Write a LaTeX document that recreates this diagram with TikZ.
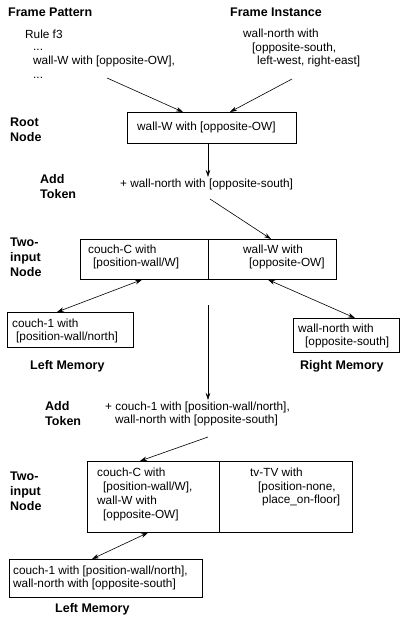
\documentclass[tikz,border=0pt]{standalone}
\usepackage{fontspec}
\setmainfont{Liberation Sans}
\usetikzlibrary{arrows.meta}
\begin{document}
\begin{tikzpicture}[x=1pt,y=-1pt,
  txt/.style={font=\fontsize{11.8}{13.8}\selectfont, inner sep=0pt, align=left, anchor=west},
  lbl/.style={font=\fontsize{12.5}{15}\selectfont\bfseries, inner sep=0pt, align=left, anchor=west},
  boxx/.style={draw, line width=0.7pt, inner sep=0pt, anchor=north west},
  arr/.style={line width=0.6pt, -{Stealth[length=7pt,width=4.5pt]}},
  darr/.style={line width=0.6pt, {Stealth[length=7pt,width=4.5pt]}-{Stealth[length=7pt,width=4.5pt]}},
]
\useasboundingbox (0,0) rectangle (407,629);

% headers
\node[lbl] (hfp) at (8,12) {Frame Pattern};
\node[lbl] (hfi) at (230,12) {Frame Instance};
\node[txt] (rule) at (25,34) {Rule f3};
\node[txt] (pat) at (33,62) {\strut...\\wall-W with [opposite-OW],\\\strut...};
\node[txt] (inst) at (243,48) {wall-north with\\\hspace*{9pt}[opposite-south,\\\hspace*{14pt}left-west, right-east]};

% root
\node[boxx, minimum width=169, minimum height=31] (root) at (127,112) {};
\node[txt] (roottxt) at (137,127) {wall-W with [opposite-OW]};
\node[lbl] (lroot) at (10,130) {Root\\Node};
\coordinate (a1s) at (107,78);
\coordinate (a2s) at (292,79);
\draw[arr] (a1s) -- ([xshift=56pt]root.north west);
\draw[arr] (a2s) -- ([xshift=103pt]root.north west);

% add token 1
\coordinate (t1tip) at (208,177);
\draw[arr] ([xshift=81pt]root.south west) -- (t1tip);
\node[txt] (tok1) at (120,184) {+ wall-north with [opposite-south]};
\node[lbl] (ladd1) at (40,187) {Add\\Token};

% two-input node 1
\node[boxx, minimum width=128, minimum height=40] (n1l) at (80,239) {};
\node[boxx, minimum width=128, minimum height=40] (n1r) at (208,239) {};
\node[txt] (n1lt) at (88,257) {couch-C with\\\hspace*{5pt}[position-wall/W]};
\node[txt] (n1rt) at (243,257) {wall-W with\\\hspace*{6pt}[opposite-OW]};
\node[lbl] (ltwo1) at (10,257) {Two-\\input\\Node};
\coordinate (a3s) at (210,199);
\draw[arr] (a3s) -- ([xshift=63pt]n1r.north west);

% memories 1
\node[boxx, minimum width=126, minimum height=35] (lm1) at (7,312) {};
\node[txt] (lm1t) at (12,331) {couch-1 with\\\hspace*{4pt}[position-wall/north]};
\node[boxx, minimum width=106, minimum height=34] (rm1) at (293,318) {};
\node[txt] (rm1t) at (298,336) {wall-north with\\\hspace*{7pt}[opposite-south]};
\draw[darr] ([xshift=62pt]n1l.south west) -- ([xshift=50pt]lm1.north west);
\draw[darr] ([xshift=60pt]n1r.south west) -- ([xshift=62pt]rm1.north west);
\node[lbl] (llm1) at (30,366) {Left Memory};
\node[lbl] (lrm1) at (300,366) {Right Memory};

% add token 2
\coordinate (vs) at (208,305);
\coordinate (vt) at (208,400);
\draw[arr] (vs) -- (vt);
\node[lbl] (ladd2) at (45,414) {Add\\Token};
\node[txt] (tok2) at (105,414) {+ couch-1 with [position-wall/north],\\\hspace*{10pt}wall-north with [opposite-south]};

% two-input node 2
\node[boxx, minimum width=132, minimum height=71] (n2l) at (87,461) {};
\node[boxx, minimum width=133, minimum height=71] (n2r) at (219,461) {};
\node[txt] (n2lt) at (97,494.5) {couch-C with\\\hspace*{6pt}[position-wall/W],\\wall-W with\\\hspace*{6pt}[opposite-OW]};
\node[txt] (n2rt) at (250,487) {tv-TV with\\\hspace*{8pt}[position-none,\\\hspace*{12pt}place\_on-floor]};
\node[lbl] (ltwo2) at (10,491) {Two-\\input\\Node};
\coordinate (a4s) at (208,437);
\draw[arr] (a4s) -- ([xshift=53pt]n2l.north west);

% memory 2
\node[boxx, minimum width=193, minimum height=38] (lm2) at (9,559) {};
\node[txt] (lm2t) at (13,578) {couch-1 with [position-wall/north],\\wall-north with [opposite-south]};
\draw[darr] ([xshift=61pt]n2l.south west) -- ([xshift=83pt]lm2.north west);
\node[lbl] (llm2) at (55,609) {Left Memory};
\end{tikzpicture}
\end{document}
